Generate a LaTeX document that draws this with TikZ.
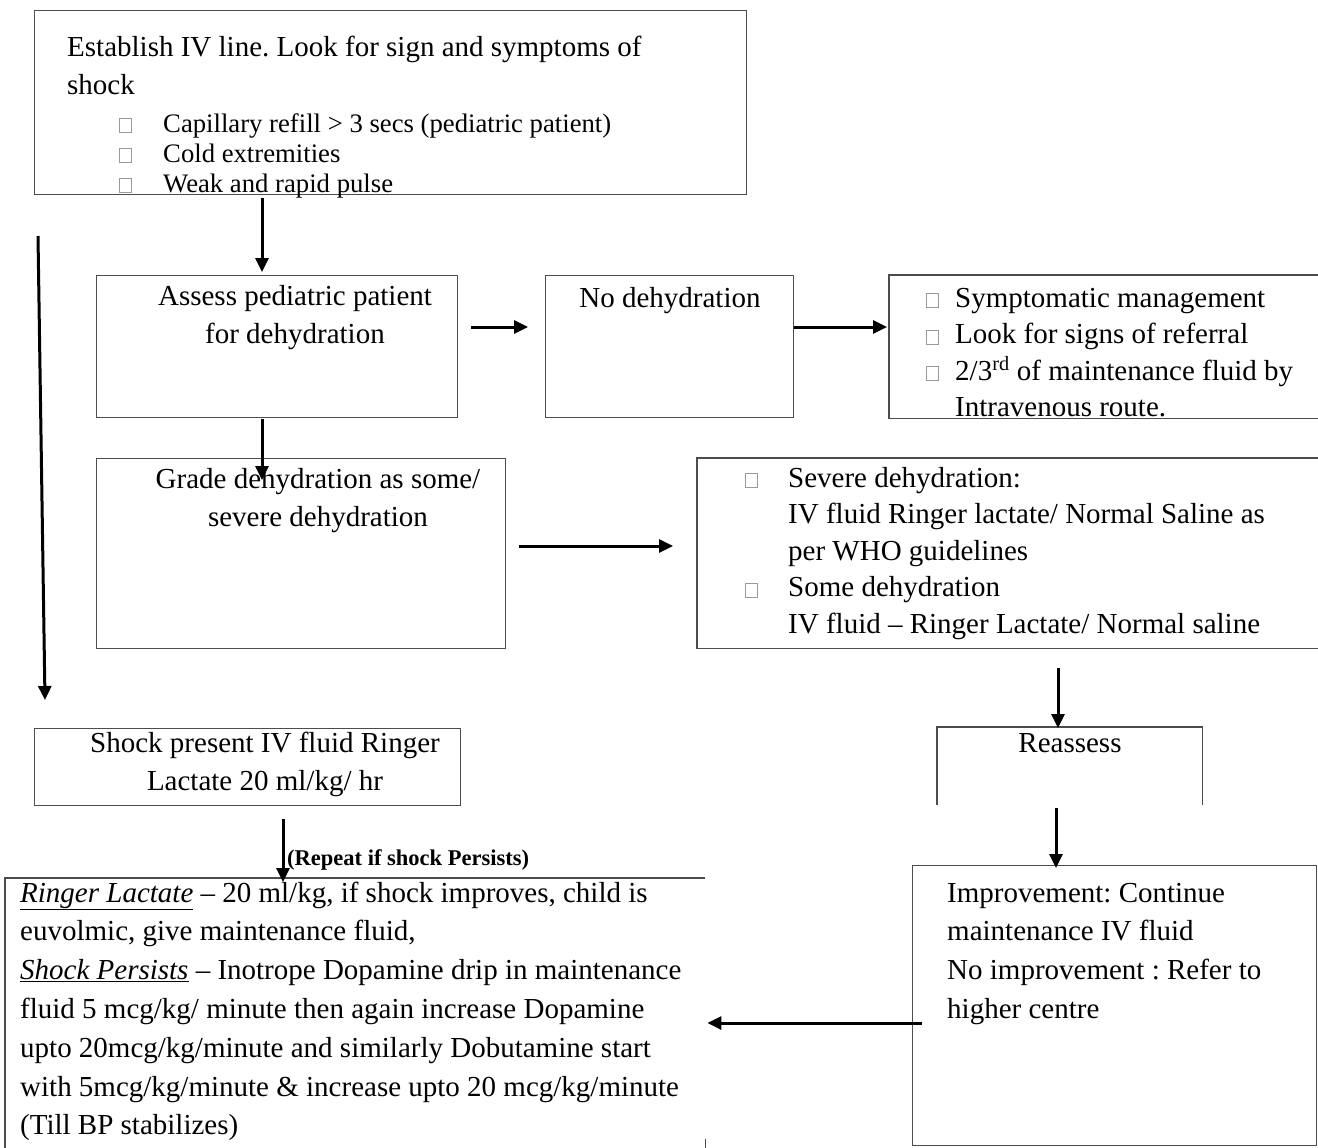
\documentclass[tikz,border=0pt]{standalone}
\usepackage{fontspec}
\setmainfont{Liberation Serif}
\usetikzlibrary{arrows.meta,calc}
\definecolor{boxgray}{gray}{0.3}
\frenchspacing
\newcommand{\sqb}{{\color{black!40}\setlength{\fboxrule}{0.7pt}\setlength{\fboxsep}{0pt}\fbox{\rule{0pt}{13pt}\hspace{11pt}}}}
\begin{document}
\begin{tikzpicture}[x=1pt,y=-1pt,
  box/.style={draw=boxgray, line width=1.2pt, anchor=north west, inner sep=0pt},
  openbox/.style={anchor=north west, inner sep=0pt},
  edge/.style={draw=boxgray, line width=1.2pt},
  arr/.style={line width=3pt, -{Triangle[length=14pt,width=13pt]}},
  ltxt/.style={anchor=base west, inner sep=0pt, align=left, font=\fontsize{29}{38}\selectfont},
  ctxt/.style={anchor=base, inner sep=0pt, align=center, font=\fontsize{29}{38}\selectfont}]
\useasboundingbox (0,0) rectangle (1318,1148);
% boxes
\node[box, minimum width=712pt, minimum height=184pt] (top) at (34,10) {};
\node[box, minimum width=361pt, minimum height=142pt] (assess) at (96,275) {};
\node[box, minimum width=248pt, minimum height=142pt] (nodehyd) at (545,275) {};
\node[openbox, minimum width=429pt, minimum height=143pt] (sympt) at (889,275) {};
\node[box, minimum width=409pt, minimum height=190pt] (grade) at (96,458) {};
\node[openbox, minimum width=621pt, minimum height=190pt] (severe) at (697,458) {};
\node[box, minimum width=426pt, minimum height=77pt] (shock) at (34,728) {};
\node[openbox, minimum width=265pt, minimum height=78pt] (reass) at (937,727) {};
\node[openbox, minimum width=700pt, minimum height=270pt] (ringer) at (5,878) {};
\node[box, minimum width=404pt, minimum height=280pt] (impr) at (912,865) {};
\draw[edge] (sympt.north east) -- (sympt.north west) -- (sympt.south west) -- (sympt.south east);
\draw[edge] (severe.north east) -- (severe.north west) -- (severe.south west) -- (severe.south east);
\draw[edge] (reass.south west) -- (reass.north west) -- (reass.north east) -- (reass.south east);
\draw[edge] (ringer.north east) -- (ringer.north west) -- (ringer.south west);
\draw[edge] ($(ringer.south east)+(0,-9)$) -- (ringer.south east);
% texts (base anchor = baseline of the last line)
\node[ltxt] (t1) at (67,95) {Establish IV line. Look for sign and symptoms of\\shock};
\node[ltxt, font=\fontsize{26.7}{30}\selectfont] (t1b) at (119,192) {\makebox[44pt][l]{\sqb}Capillary refill > 3 secs (pediatric patient)\\\makebox[44pt][l]{\sqb}Cold extremities\\\makebox[44pt][l]{\sqb}Weak and rapid pulse};
\node[ctxt] (t2) at (295,343) {Assess pediatric patient\\for dehydration};
\node[ctxt] (t3) at (670,307) {No dehydration};
\node[ltxt, font=\fontsize{29}{36.5}\selectfont] (t4) at (926,416.5) {\makebox[29pt][l]{\sqb}Symptomatic management\\\makebox[29pt][l]{\sqb}Look for signs of referral\\\makebox[29pt][l]{\sqb}2/3\textsuperscript{rd} of maintenance fluid by\\\hspace*{29pt}Intravenous route.};
\node[ctxt] (t5) at (318,526) {Grade dehydration as some/\\severe dehydration};
\node[ltxt, font=\fontsize{29}{36.6}\selectfont] (t6) at (745,633.4) {\makebox[43pt][l]{\sqb}Severe dehydration:\\\hspace*{43pt}IV fluid Ringer lactate/ Normal Saline as\\\hspace*{43pt}per WHO guidelines\\\makebox[43pt][l]{\sqb}Some dehydration\\\hspace*{43pt}IV fluid – Ringer Lactate/ Normal saline};
\node[ctxt] (t7) at (265,790) {Shock present IV fluid Ringer\\Lactate 20 ml/kg/ hr};
\node[ctxt] (t8) at (1070,752) {Reassess};
\node[anchor=base west, inner sep=0pt, font=\fontsize{22.5}{26}\selectfont\bfseries] (t9) at (287,865) {(Repeat if shock Persists)};
\node[ltxt, font=\fontsize{29}{38.8}\selectfont] (t10) at (20,1134.8) {\underline{\textit{Ringer Lactate}} – 20 ml/kg, if shock improves, child is\\euvolmic, give maintenance fluid,\\\underline{\textit{Shock Persists}} – Inotrope Dopamine drip in maintenance\\fluid 5 mcg/kg/ minute then again increase Dopamine\\upto 20mcg/kg/minute and similarly Dobutamine start\\with 5mcg/kg/minute \& increase upto 20 mcg/kg/minute\\(Till BP stabilizes)};
\node[ltxt, font=\fontsize{29}{38.7}\selectfont] (t11) at (947,1018.1) {Improvement: Continue\\maintenance IV fluid\\No improvement : Refer to\\higher centre};
% arrows
\coordinate (la1) at (38,236);
\coordinate (la2) at (45,700);
\draw[arr] (la1) -- (la2);
\draw[arr] ($(top.south west)+(228,3)$) -- ($(assess.north west)+(166,-3)$);
\draw[arr] ($(assess.north east)+(13,52)$) -- ($(nodehyd.north west)+(-17,52)$);
\draw[arr] ($(nodehyd.north east)+(0,52)$) -- ($(sympt.north west)+(-2,52)$);
\draw[arr] ($(assess.south west)+(166,1)$) -- ($(grade.north west)+(166,22)$);
\draw[arr] ($(grade.north east)+(13,88)$) -- ($(severe.north west)+(-24,88)$);
\draw[arr] ($(severe.south west)+(361,20)$) -- ($(reass.north west)+(121,1)$);
\draw[arr] ($(reass.south west)+(119,3)$) -- ($(impr.north west)+(144,3)$);
\draw[arr] ($(shock.south west)+(249,13)$) -- ($(ringer.north west)+(278,4)$);
\draw[arr] ($(impr.north west)+(10,158)$) -- ($(ringer.north east)+(2,145)$);
\end{tikzpicture}
\end{document}
